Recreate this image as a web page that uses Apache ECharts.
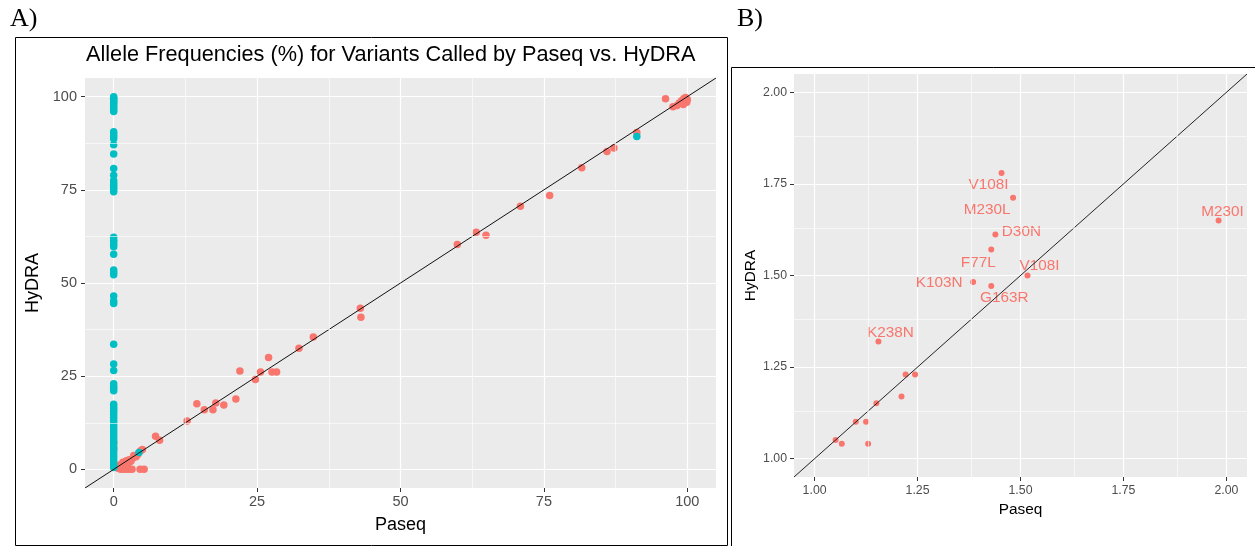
<!DOCTYPE html>
<html><head><meta charset="utf-8">
<script src="https://cdn.jsdelivr.net/npm/echarts@6/dist/echarts.min.js"></script>
<style>html,body{margin:0;padding:0;background:#fff}#c{width:1255px;height:546px}</style>
</head><body><div id="c"></div>
<script>
// ---------- data ----------
const titleA = 'Allele Frequencies (%) for Variants Called by Paseq vs. HyDRA';
const aTicks = [0, 25, 50, 75, 100];
const aMinor = [12.5, 37.5, 62.5, 87.5];
const aRange = [-5, 105];
const bTicks = [1.00, 1.25, 1.50, 1.75, 2.00];
const bMinor = [1.125, 1.375, 1.625, 1.875];
const bRange = [0.95, 2.05];

// panel A, salmon points [Paseq, HyDRA]
const aSalmon = [
  [0, 7.2], [0, 5.6],
  [0.5, 0.5], [0.8, 0.3], [1.0, 1.2], [1.3, 0.6], [1.6, 1.9], [1.9, 1.2], [2.2, 2.3], [2.5, 1.6],
  [2.7, 2.6], [3.0, 2.2], [3.3, 3.0], [3.6, 3.6], [3.9, 3.4], [4.2, 4.0], [1.2, 0], [1.7, 0],
  [2.2, 0], [2.7, 0], [3.2, 0], [4.6, 0], [5.3, 0], [5.0, 5.3], [4.7, 5.0], [3.5, 3.7],
  [7.3, 8.9], [8.0, 7.8],
  [12.8, 13.0], [14.5, 17.6], [15.8, 16.0], [17.3, 16.0], [17.8, 17.8], [19.2, 17.3], [21.3, 18.9],
  [22.0, 26.4], [24.7, 24.1], [25.6, 26.1], [27.0, 30.0], [27.6, 26.1], [28.4, 26.1], [32.3, 32.5],
  [34.8, 35.5], [43.0, 43.2], [43.1, 40.8],
  [59.9, 60.3], [63.2, 63.6], [64.9, 62.8], [70.9, 70.6], [76.0, 73.5], [81.6, 80.9], [86.0, 85.3],
  [87.2, 86.2], [91.2, 90.4],
  [96.2, 99.4], [97.5, 97.3], [98.2, 97.6], [98.6, 98.3], [99.0, 98.9], [99.4, 99.5], [99.7, 99.8],
  [99.9, 98.5], [99.3, 97.9], [100.0, 99.2]
];
// panel A, cyan points [Paseq, HyDRA]
const aCyan = [
  [0, 100], [0, 99.6], [0, 99.2], [0, 98.8], [0, 98.4], [0, 98], [0, 97.5], [0, 97], [0, 96.5], [0, 96],
  [0, 90.6], [0, 90], [0, 89.3], [0, 88.7], [0, 87.1], [0, 84.6], [0, 80.7], [0, 78.9], [0, 77.5],
  [0, 76.8], [0, 76.2], [0, 75.6], [0, 75], [0, 74.5], [0, 62.3], [0, 61.5], [0, 61], [0, 60.3],
  [0, 59.7], [0, 57.7], [0, 53.5], [0, 52.8], [0, 52.2], [0, 46.5], [0, 45.2], [0, 44.5], [0, 33.6],
  [0, 28.3], [0, 26.5], [0, 23], [0, 22.3], [0, 21.7], [0, 21.1], [0, 17.5], [0, 16.8], [0, 16.2],
  [0, 15.5], [0, 14.8], [0, 14], [0, 13.2], [0, 12.4], [0, 11.6], [0, 10.8], [0, 10], [0, 9.2],
  [0, 8.4], [0, 7.6], [0, 6.8], [0, 6], [0, 5.2], [0, 4.4], [0, 3.6], [0, 2.8], [0, 2], [0, 1.2],
  [0, 0.5], [4.4, 4.5], [91.2, 89.3]
];

// panel B
const bPaseq = [1.454, 1.482, 1.981, 1.439, 1.429, 1.517, 1.385, 1.429, 1.155, 1.221, 1.244, 1.211, 1.150, 1.100, 1.125, 1.051, 1.066, 1.130];
const bHydra = [1.780, 1.712, 1.650, 1.612, 1.571, 1.500, 1.482, 1.471, 1.320, 1.230, 1.230, 1.170, 1.151, 1.101, 1.101, 1.051, 1.041, 1.041];
const bLabels = ['V108I', 'M230L', 'M230I', 'D30N', 'F77L', 'V108I', 'K103N', 'G163R', 'K238N', '', '', '', '', '', '', '', '', ''];

// ---------- styling / layout ----------
const labelOffsets = [[-13, 12], [-26, 12], [4, -9], [26, -3], [-13, 13], [12, -10], [-34, 1], [13, 12], [12, -9]];
const SALMON = '#F8766D', CYAN = '#00BFC4';
const FONT = '"Liberation Sans", Arial, sans-serif';

function axisCfg(grid, ticks, range, fmt, fs, nameFs, name, nameGap, margin) {
  return {
    gridIndex: grid, type: 'value', min: range[0], max: range[1], name: name,
    nameLocation: 'middle', nameGap: nameGap,
    nameTextStyle: { fontSize: nameFs, color: '#000', fontFamily: FONT },
    axisLine: { show: false, onZero: false },
    axisTick: { show: true, length: 4, customValues: ticks, lineStyle: { color: '#333', width: 1 } },
    axisLabel: { customValues: ticks, formatter: fmt, fontSize: fs, color: '#4D4D4D', fontFamily: FONT, margin: margin },
    splitLine: { show: true, lineStyle: { color: '#fff', width: 1.2 } }
  };
}
function minorLines(minor) {
  const d = [];
  minor.forEach(v => { d.push({ xAxis: v }); d.push({ yAxis: v }); });
  return d;
}
const fmtA = v => String(v);
const fmtB = v => Number(v).toFixed(2);

const bData = bPaseq.map((x, i) => {
  const o = { value: [x, bHydra[i]] };
  if (bLabels[i]) {
    o.label = { show: true, formatter: bLabels[i], position: 'inside', offset: labelOffsets[i] };
  }
  return o;
});

const chart = echarts.init(document.getElementById('c'), null, { renderer: 'canvas' });
chart.setOption({
  animation: false,
  textStyle: { fontFamily: FONT },
  grid: [
    { left: 85, top: 78, width: 631, height: 410, show: true, backgroundColor: '#EBEBEB', borderWidth: 0 },
    { left: 794, top: 74, width: 453, height: 403, show: true, backgroundColor: '#EBEBEB', borderWidth: 0 }
  ],
  xAxis: [
    axisCfg(0, aTicks, aRange, fmtA, 14.5, 18, 'Paseq', 28, 6),
    axisCfg(1, bTicks, bRange, fmtB, 12.3, 15.4, 'Paseq', 24, 8)
  ],
  yAxis: [
    axisCfg(0, aTicks, aRange, fmtA, 14.5, 18, 'HyDRA', 36, 8),
    axisCfg(1, bTicks, bRange, fmtB, 12.3, 15.4, 'HyDRA', 36, 7)
  ],
  graphic: [
    { type: 'rect', shape: { x: 15.5, y: 37.5, width: 712, height: 508 }, style: { fill: 'none', stroke: '#000', lineWidth: 1 }, silent: true },
    { type: 'rect', shape: { x: 731.5, y: 67.5, width: 540, height: 520 }, style: { fill: 'none', stroke: '#000', lineWidth: 1 }, silent: true },
    { type: 'text', left: 10, top: 6, style: { text: 'A)', font: '26px "Liberation Serif", "Times New Roman", serif', fill: '#000' } },
    { type: 'text', left: 737, top: 6, style: { text: 'B)', font: '26px "Liberation Serif", "Times New Roman", serif', fill: '#000' } },
    { type: 'text', left: 86, top: 44, style: { text: titleA, font: '21.7px ' + FONT, fill: '#000' } }
  ],
  series: [
    { type: 'scatter', xAxisIndex: 0, yAxisIndex: 0, data: [], z: 1, silent: true,
      markLine: { silent: true, symbol: 'none', label: { show: false }, animation: false,
        lineStyle: { color: '#fff', width: 0.6, type: 'solid' }, data: minorLines(aMinor) } },
    { type: 'scatter', xAxisIndex: 1, yAxisIndex: 1, data: [], z: 1, silent: true,
      markLine: { silent: true, symbol: 'none', label: { show: false }, animation: false,
        lineStyle: { color: '#fff', width: 0.6, type: 'solid' }, data: minorLines(bMinor) } },
    { type: 'line', xAxisIndex: 0, yAxisIndex: 0, data: [[aRange[0], aRange[0]], [aRange[1], aRange[1]]],
      symbol: 'none', lineStyle: { color: '#111', width: 1 }, z: 4, silent: true },
    { type: 'scatter', xAxisIndex: 0, yAxisIndex: 0, data: aSalmon, symbolSize: 7.5,
      itemStyle: { color: SALMON, opacity: 1 }, z: 2 },
    { type: 'scatter', xAxisIndex: 0, yAxisIndex: 0, data: aCyan, symbolSize: 7.5,
      itemStyle: { color: CYAN, opacity: 1 }, z: 3 },
    { type: 'line', xAxisIndex: 1, yAxisIndex: 1, data: [[bRange[0], bRange[0]], [bRange[1], bRange[1]]],
      symbol: 'none', lineStyle: { color: '#222', width: 1 }, z: 4, silent: true },
    { type: 'scatter', xAxisIndex: 1, yAxisIndex: 1, data: bData, symbolSize: 6,
      itemStyle: { color: SALMON, opacity: 1 }, z: 3,
      label: { color: SALMON, fontSize: 15.3, fontFamily: FONT } }
  ]
});
</script>
</body></html>
